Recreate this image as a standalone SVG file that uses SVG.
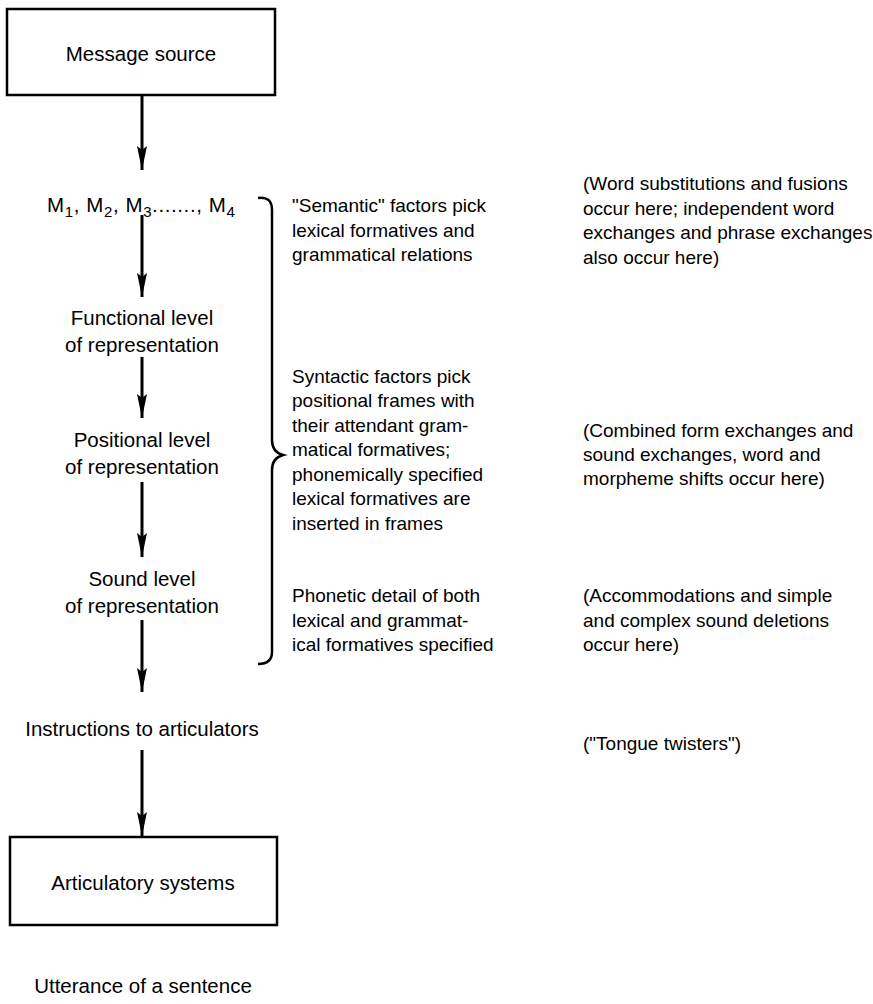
<svg xmlns="http://www.w3.org/2000/svg" width="873" height="1004" viewBox="0 0 873 1004">
<defs>
<marker id="ah" viewBox="0 0 24 10" refX="24" refY="5" markerWidth="24" markerHeight="10" markerUnits="userSpaceOnUse" orient="auto">
<path d="M0,0 L4,5 L0,10 L24,5 Z" fill="#000"/>
</marker>
<style>
text{font-family:"Liberation Sans",Arial,sans-serif;font-size:19px;fill:#000}
.l{font-size:20.5px;text-anchor:middle}
.box{fill:#fff;stroke:#000;stroke-width:2.5}
.conn line{stroke:#000;stroke-width:3}
.brace{fill:none;stroke:#000;stroke-width:2.5}
.sub{font-size:15px}
</style>
</defs>
<rect width="873" height="1004" fill="#fff"/>

<g id="message-source">
<rect class="box" x="7" y="9" width="268" height="86"/>
<text class="l" x="141" y="61">Message source</text>
</g>

<g id="m-list">
<text x="47" y="212" style="font-size:20.5px;letter-spacing:0.6px">M<tspan class="sub" dy="5">1</tspan><tspan dy="-5">, M</tspan><tspan class="sub" dy="5">2</tspan><tspan dy="-5">, M</tspan><tspan class="sub" dy="5">3</tspan><tspan dy="-5">......., M</tspan><tspan class="sub" dy="5">4</tspan></text>
</g>

<g id="functional">
<text class="l" x="142" y="325">Functional level</text>
<text class="l" x="142" y="352">of representation</text>
</g>

<g id="positional">
<text class="l" x="142" y="447">Positional level</text>
<text class="l" x="142" y="474">of representation</text>
</g>

<g id="sound">
<text class="l" x="142" y="586">Sound level</text>
<text class="l" x="142" y="613">of representation</text>
</g>

<g id="instructions">
<text class="l" x="142" y="736">Instructions to articulators</text>
</g>

<g id="articulatory">
<rect class="box" x="10" y="837" width="267" height="88"/>
<text class="l" x="143" y="890">Articulatory systems</text>
</g>

<g id="utterance">
<text class="l" x="143" y="993">Utterance of a sentence</text>
</g>

<g id="connectors" class="conn">
<line x1="142" y1="95" x2="142" y2="170" marker-end="url(#ah)"/>
<line x1="142" y1="215" x2="142" y2="297" marker-end="url(#ah)"/>
<line x1="142" y1="357" x2="142" y2="418" marker-end="url(#ah)"/>
<line x1="142" y1="482" x2="142" y2="557" marker-end="url(#ah)"/>
<line x1="142" y1="620" x2="142" y2="692" marker-end="url(#ah)"/>
<line x1="142" y1="750" x2="142" y2="836" marker-end="url(#ah)"/>
</g>

<g id="brace">
<path class="brace" d="M258,198 Q272,196 272,210 L272,440 Q272,452 283,455 Q272,458 272,470 L272,652 Q272,664 258,664"/>
</g>

<g id="semantic-text">
<text x="292" y="212">"Semantic" factors pick</text>
<text x="292" y="237">lexical formatives and</text>
<text x="292" y="261">grammatical relations</text>
</g>

<g id="syntactic-text">
<text x="292" y="383">Syntactic factors pick</text>
<text x="292" y="407">positional frames with</text>
<text x="292" y="432">their attendant gram-</text>
<text x="292" y="456">matical formatives;</text>
<text x="292" y="481">phonemically specified</text>
<text x="292" y="505">lexical formatives are</text>
<text x="292" y="530">inserted in frames</text>
</g>

<g id="phonetic-text">
<text x="292" y="602">Phonetic detail of both</text>
<text x="292" y="627">lexical and grammat-</text>
<text x="292" y="651">ical formatives specified</text>
</g>

<g id="word-errors">
<text x="583" y="190">(Word substitutions and fusions</text>
<text x="583" y="215">occur here; independent word</text>
<text x="583" y="239">exchanges and phrase exchanges</text>
<text x="583" y="264">also occur here)</text>
</g>

<g id="sound-errors">
<text x="583" y="437">(Combined form exchanges and</text>
<text x="583" y="461">sound exchanges, word and</text>
<text x="583" y="485">morpheme shifts occur here)</text>
</g>

<g id="deletions">
<text x="583" y="602">(Accommodations and simple</text>
<text x="583" y="627">and complex sound deletions</text>
<text x="583" y="651">occur here)</text>
</g>

<g id="tongue-twisters">
<text x="583" y="750">("Tongue twisters")</text>
</g>
</svg>
